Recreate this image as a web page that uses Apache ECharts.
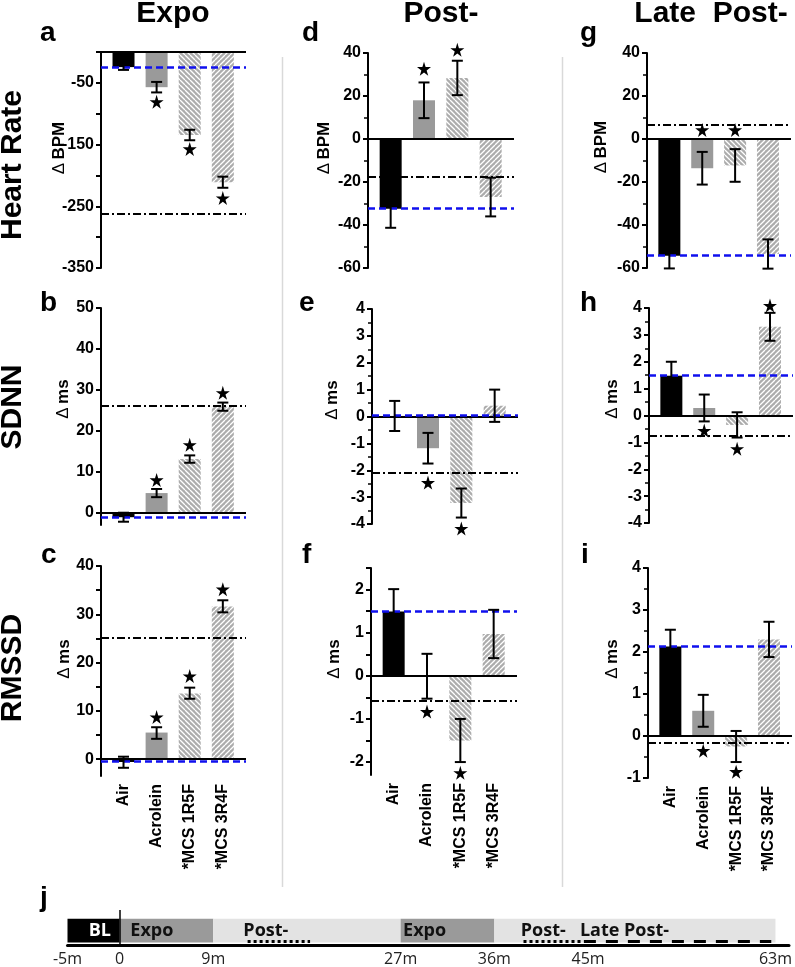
<!DOCTYPE html>
<html><head><meta charset="utf-8">
<script src="https://cdn.jsdelivr.net/npm/echarts@6.0.0/dist/echarts.min.js"></script>
<style>html,body{margin:0;padding:0;background:#fff}#c{width:795px;height:967px}</style>
</head><body><div id="c"></div>
<script>
// ---------- DATA ----------
const categories = ['Air', 'Acrolein', '*MCS 1R5F', '*MCS 3R4F'];

// Heart rate (Δ BPM)
const hrExpoMean = [-24.5, -57, -134.5, -211];
const hrExpoLow  = [-29, -65.5, -143, -220];
const hrExpoHigh = [-20, -48.5, -126, -202];
const hrExpoStar = [null, -80.7, -157, -236.6];
const hrExpoAirRef = -24.5, hrExpoRef2 = -262;

const hrPostMean = [-32.4, 18, 28.4, -27];
const hrPostLow  = [-41.3, 9.7, 20.4, -36];
const hrPostHigh = [-23.5, 26.3, 36.4, -18];
const hrPostStar = [null, 32.7, 41.5, null];
const hrPostAirRef = -32.4, hrPostRef2 = -17.4;

const hrLateMean = [-54.3, -13.6, -12.3, -53.5];
const hrLateLow  = [-60.2, -21.2, -19.9, -60.3];
const hrLateHigh = [-48.4, -6, -4.7, -46.7];
const hrLateStar = [null, 4.2, 4.2, null];
const hrLateAirRef = -54.3, hrLateRef2 = 6.5;

// SDNN (Δ ms)
const sdExpoMean = [-1.1, 4.8, 13.1, 25.9];
const sdExpoLow  = [-2.2, 3.8, 12.2, 24.9];
const sdExpoHigh = [0, 5.8, 14.0, 26.9];
const sdExpoStar = [null, 8.0, 16.6, 29.3];
const sdExpoAirRef = -1.1, sdExpoRef2 = 26.2;

const sdPostMean = [0.02, -1.18, -3.22, 0.4];
const sdPostLow  = [-0.54, -1.75, -3.76, -0.2];
const sdPostHigh = [0.58, -0.61, -2.68, 1.0];
const sdPostStar = [null, -2.46, -4.17, null];
const sdPostAirRef = 0.03, sdPostRef2 = -2.1;

const sdLateMean = [1.48, 0.28, -0.35, 3.3];
const sdLateLow  = [0.96, -0.22, -0.82, 2.78];
const sdLateHigh = [2.0, 0.78, 0.12, 3.82];
const sdLateStar = [null, -0.56, -1.24, 4.09];
const sdLateAirRef = 1.5, sdLateRef2 = -0.75;

// RMSSD (Δ ms)
const rmExpoMean = [-0.6, 5.5, 13.6, 31.6];
const rmExpoLow  = [-1.8, 4.2, 12.5, 30.4];
const rmExpoHigh = [0.5, 6.6, 14.8, 32.9];
const rmExpoStar = [null, 8.7, 17.2, 35.2];
const rmExpoAirRef = -0.4, rmExpoRef2 = 25.2;

const rmPostMean = [1.49, -0.01, -1.5, 0.97];
const rmPostLow  = [0.97, -0.53, -2.0, 0.41];
const rmPostHigh = [2.01, 0.51, -1.0, 1.53];
const rmPostStar = [null, -0.83, -2.25, null];
const rmPostAirRef = 1.5, rmPostRef2 = -0.58;

const rmLateMean = [2.13, 0.6, -0.25, 2.3];
const rmLateLow  = [1.73, 0.22, -0.62, 1.88];
const rmLateHigh = [2.53, 0.98, 0.12, 2.72];
const rmLateStar = [null, -0.35, -0.85, null];
const rmLateAirRef = 2.13, rmLateRef2 = -0.15;

// Tick labels
const ticksHrExpo = [-350, -250, -150, -50];
const ticksHrExpoMinor = [-350, -300, -250, -200, -150, -100, -50, 0];
const ticksSdExpo = [0, 10, 20, 30, 40, 50];
const ticksRmExpo = [0, 10, 20, 30, 40];
const ticksRmExpoMinor = [0, 5, 10, 15, 20, 25, 30, 35, 40];
const ticksRmPost = [-2, -1, 0, 1, 2];
const ticksRmPostMinor = [-2, -1.5, -1, -0.5, 0, 0.5, 1, 1.5, 2, 2.5];

// Timeline (minutes)
const phaseStart = [-5, 0, 9, 27, 36];
const phaseEnd   = [0, 9, 27, 36, 63];
const phaseKind  = ['BL', 'Expo', 'Post', 'Expo', 'Post'];
const phaseLabelText = ['BL', 'Expo', 'Post-', 'Expo', 'Post-', 'Late Post-'];
const phaseLabelTime = [-1.9, 3.1, 14.05, 29.3, 40.7, 48.5];
const windowStart = [12.3, 38.8, 44.6];
const windowEnd   = [18.3, 44.5, 62.6];
const windowKind  = ['post', 'post', 'late'];
const timeTicks = [-5, 0, 9, 27, 36, 45, 63];

// ---------- BUILD ----------
function hatch(dir) {
  const s = 5, c = document.createElement('canvas');
  c.width = s; c.height = s;
  const g = c.getContext('2d');
  g.fillStyle = '#acacac'; g.fillRect(0, 0, s, s);
  g.strokeStyle = '#ffffff'; g.lineWidth = 1.3; g.beginPath();
  for (const x0 of [-s, 0, s]) {
    if (dir > 0) { g.moveTo(x0, s); g.lineTo(x0 + s, 0); }
    else { g.moveTo(x0, 0); g.lineTo(x0 + s, s); }
  }
  g.stroke();
  return { image: c, repeat: 'repeat' };
}
const barColors = ['#000000', '#9a9a9a', hatch(-1), hatch(1)];
const FONT = 'Liberation Sans, Arial, sans-serif';
const STAR = 'path://M50,0 L61,35 L98,35 L68,57 L79,91 L50,70 L21,91 L32,57 L2,35 L39,35 Z';

const panels = [
  {m: hrExpoMean, lo: hrExpoLow, hi: hrExpoHigh, st: hrExpoStar, r1: hrExpoAirRef, r2: hrExpoRef2,
   grid: [101, 52, 145, 216], min: -350, max: 0, labels: ticksHrExpo, ticks: ticksHrExpoMinor, name: 'BPM', namePos: [59, 148], bottom: false},
  {m: sdExpoMean, lo: sdExpoLow, hi: sdExpoHigh, st: sdExpoStar, r1: sdExpoAirRef, r2: sdExpoRef2,
   grid: [101, 308, 145, 217], min: -3, max: 50, labels: ticksSdExpo, ticks: ticksSdExpo, name: 'ms', namePos: [63, 399], bottom: false},
  {m: rmExpoMean, lo: rmExpoLow, hi: rmExpoHigh, st: rmExpoStar, r1: rmExpoAirRef, r2: rmExpoRef2,
   grid: [101, 566, 145, 210], min: -3.5, max: 40, labels: ticksRmExpo, ticks: ticksRmExpoMinor, name: 'ms', namePos: [64, 659], bottom: true},
  {m: hrPostMean, lo: hrPostLow, hi: hrPostHigh, st: hrPostStar, r1: hrPostAirRef, r2: hrPostRef2,
   grid: [368, 53, 146, 215], min: -60, max: 40, interval: 20, name: 'BPM', namePos: [324, 148], bottom: false},
  {m: sdPostMean, lo: sdPostLow, hi: sdPostHigh, st: sdPostStar, r1: sdPostAirRef, r2: sdPostRef2,
   grid: [372, 309, 146, 215], min: -4, max: 4, interval: 1, name: 'ms', namePos: [332, 400], bottom: false},
  {m: rmPostMean, lo: rmPostLow, hi: rmPostHigh, st: rmPostStar, r1: rmPostAirRef, r2: rmPostRef2,
   grid: [371, 568, 146, 207], min: -2.3, max: 2.5, labels: ticksRmPost, ticks: ticksRmPostMinor, name: 'ms', namePos: [334, 659], bottom: true},
  {m: hrLateMean, lo: hrLateLow, hi: hrLateHigh, st: hrLateStar, r1: hrLateAirRef, r2: hrLateRef2,
   grid: [647, 53, 144, 215], min: -60, max: 40, interval: 20, name: 'BPM', namePos: [601, 147], bottom: false},
  {m: sdLateMean, lo: sdLateLow, hi: sdLateHigh, st: sdLateStar, r1: sdLateAirRef, r2: sdLateRef2,
   grid: [649, 308, 144, 215], min: -4, max: 4, interval: 1, name: 'ms', namePos: [612, 399], bottom: false},
  {m: rmLateMean, lo: rmLateLow, hi: rmLateHigh, st: rmLateStar, r1: rmLateAirRef, r2: rmLateRef2,
   grid: [648, 568, 144, 210], min: -1, max: 4, interval: 1, name: 'ms', namePos: [612, 659], bottom: true}
];

const grids = [], xAxes = [], yAxes = [], series = [], nameTexts = [];
panels.forEach((p, i) => {
  grids.push({left: p.grid[0], top: p.grid[1], width: p.grid[2], height: p.grid[3]});
  xAxes.push({
    type: 'value', gridIndex: i, min: -0.68, max: 3.7,
    axisLine: {show: false}, axisTick: {show: false}, splitLine: {show: false},
    axisLabel: p.bottom ? {show: true, customValues: [0, 1, 2, 3], formatter: v => categories[Math.round(v)],
      rotate: 90, margin: 8, color: '#000', fontWeight: 'bold', fontSize: 16, fontFamily: FONT} : {show: false}
  });
  const y = {
    type: 'value', gridIndex: i, min: p.min, max: p.max,
    axisLine: {show: true, onZero: false, lineStyle: {color: '#000', width: 2}},
    axisTick: {show: true, length: 5, lineStyle: {color: '#000', width: 2}},
    axisLabel: {color: '#000', fontWeight: 'bold', fontSize: 16, fontFamily: FONT, margin: 7},
    splitLine: {show: false}
  };
  if (p.interval) {
    y.interval = p.interval;
    y.minorTick = {show: true, splitNumber: 2, length: 4, lineStyle: {color: '#000', width: 1.5}};
  } else {
    y.axisLabel.customValues = p.labels;
    y.axisTick.customValues = p.ticks;
  }
  yAxes.push(y);
  nameTexts.push({type: 'text', x: p.namePos[0], y: p.namePos[1], rotation: Math.PI / 2, silent: true,
    style: {text: '{d|Δ} {b|' + p.name + '}', align: 'center', verticalAlign: 'middle',
      textAlign: 'center', textVerticalAlign: 'middle',
      rich: {d: {fontSize: 17, fontFamily: FONT, fill: '#000', color: '#000'},
             b: {fontSize: 17, fontFamily: FONT, fontWeight: 'bold', fill: '#000', color: '#000'}}}});

  series.push({
    type: 'bar', xAxisIndex: i, yAxisIndex: i, barWidth: 22, silent: true,
    data: p.m.map((v, k) => ({value: [k, v], itemStyle: {color: barColors[k]}})),
    markLine: {
      silent: true, symbol: 'none', label: {show: false}, animation: false,
      data: [
        {yAxis: 0, lineStyle: {type: 'solid', color: '#000', width: 2}},
        {yAxis: p.r2, lineStyle: {type: [8, 3, 2, 3], color: '#000', width: 2}},
        {yAxis: p.r1, lineStyle: {type: [7, 4], color: '#1010ee', width: 2.5}}
      ]
    },
    z: 2
  });
  series.push({
    type: 'custom', xAxisIndex: i, yAxisIndex: i, silent: true, z: 5,
    data: p.lo.map((v, k) => [k, v, p.hi[k]]),
    encode: {x: 0, y: [1, 2]},
    renderItem: (params, api) => {
      const x = api.value(0);
      const a = api.coord([x, api.value(1)]), b = api.coord([x, api.value(2)]);
      const w = 5.5, st = {stroke: '#000', lineWidth: 2};
      return {type: 'group', children: [
        {type: 'line', shape: {x1: a[0], y1: a[1], x2: b[0], y2: b[1]}, style: st},
        {type: 'line', shape: {x1: a[0] - w, y1: a[1], x2: a[0] + w, y2: a[1]}, style: st},
        {type: 'line', shape: {x1: b[0] - w, y1: b[1], x2: b[0] + w, y2: b[1]}, style: st}
      ]};
    }
  });
  series.push({
    type: 'scatter', xAxisIndex: i, yAxisIndex: i, silent: true, clip: false, z: 6,
    symbol: STAR, symbolSize: 14, itemStyle: {color: '#000', opacity: 1},
    data: p.st.map((v, k) => v == null ? null : [k, v]).filter(d => d)
  });
});

// Timeline grid
const T = panels.length;
grids.push({left: 67.5, top: 910, right: 0, height: 40});
xAxes.push({
  type: 'value', gridIndex: T, min: -5, max: 64.3,
  axisLine: {show: true, onZero: false, lineStyle: {color: '#000', width: 3}},
  axisTick: {show: false}, splitLine: {show: false},
  axisLabel: {customValues: timeTicks, formatter: v => v === 0 ? '0' : v + 'm',
    fontFamily: 'Open Sans', fontSize: 16, color: '#222', margin: 6}
});
yAxes.push({type: 'value', gridIndex: T, min: 0, max: 1, show: false});
const phaseFill = {BL: '#000000', Expo: '#9a9a9a', Post: '#e3e3e3'};
series.push({
  type: 'custom', xAxisIndex: T, yAxisIndex: T, silent: true, z: 1,
  data: phaseStart.map((s, k) => [s, phaseEnd[k], k]),
  renderItem: (params, api) => {
    const k = api.value(2);
    const a = api.coord([api.value(0), 0.75]), b = api.coord([api.value(1), 0.075]);
    return {type: 'rect', shape: {x: a[0], y: a[1], width: b[0] - a[0], height: b[1] - a[1]},
      style: {fill: phaseFill[phaseKind[k]]}};
  },
  markLine: {silent: true, symbol: 'none', label: {show: false}, animation: false,
    data: [{xAxis: 0, lineStyle: {type: 'solid', color: '#000', width: 1.5}}]}
});
series.push({
  type: 'custom', xAxisIndex: T, yAxisIndex: T, silent: true, z: 3,
  data: windowStart.map((s, k) => [s, windowEnd[k], k]),
  renderItem: (params, api) => {
    const k = api.value(2);
    const a = api.coord([api.value(0), 0.1]), b = api.coord([api.value(1), 0.1]);
    const late = windowKind[k] === 'late';
    return {type: 'line', shape: {x1: a[0], y1: a[1], x2: b[0], y2: b[1]},
      style: {stroke: '#000', lineWidth: 3, lineDash: late ? [12, 10] : [3, 3]}};
  }
});
series.push({
  type: 'custom', xAxisIndex: T, yAxisIndex: T, silent: true, z: 4,
  data: phaseLabelTime.map((t, k) => [t, 0.4, k]),
  renderItem: (params, api) => {
    const k = api.value(2);
    const c = api.coord([api.value(0), api.value(1)]);
    return {type: 'text', x: c[0], y: c[1], style: {
      text: phaseLabelText[k], fill: k === 0 ? '#fff' : '#111',
      font: 'bold 18px "Open Sans", sans-serif', align: 'center', verticalAlign: 'middle',
      textAlign: 'center', textVerticalAlign: 'middle'}};
  }
});

// Decorative texts
function txt(x, y, text, font, rot) {
  return {type: 'text', x: x, y: y, rotation: rot || 0, silent: true,
    style: {text: text, font: font, fill: '#000', align: 'center', verticalAlign: 'middle',
      textAlign: 'center', textVerticalAlign: 'middle'}};
}
function leftTxt(x, y, text, font) {
  return {type: 'text', x: x, y: y, silent: true,
    style: {text: text, font: font, fill: '#000', align: 'left', verticalAlign: 'middle',
      textAlign: 'left', textVerticalAlign: 'middle'}};
}
const HF = 'bold 30px "Liberation Sans", Arial, sans-serif';
const LF = 'bold 28px "Liberation Sans", Arial, sans-serif';
const graphic = [
  txt(173, 13.5, 'Expo', HF), txt(441, 13.5, 'Post-', HF), txt(711, 13.5, 'Late  Post-', HF),
  txt(13, 165, 'Heart Rate', HF, Math.PI / 2), txt(13, 407, 'SDNN', HF, Math.PI / 2), txt(13, 668, 'RMSSD', HF, Math.PI / 2),
  leftTxt(40, 33, 'a', LF), leftTxt(40, 303, 'b', LF), leftTxt(41, 555, 'c', LF),
  leftTxt(302, 33, 'd', LF), leftTxt(299, 303, 'e', LF), leftTxt(302, 555, 'f', LF),
  leftTxt(580, 33, 'g', LF), leftTxt(580, 303, 'h', LF), leftTxt(581, 555, 'i', LF),
  leftTxt(40, 898, 'j', LF),
  {type: 'line', silent: true, shape: {x1: 282.5, y1: 57, x2: 282.5, y2: 887}, style: {stroke: '#d9d9d9', lineWidth: 1.5}},
  {type: 'line', silent: true, shape: {x1: 562.5, y1: 57, x2: 562.5, y2: 887}, style: {stroke: '#d9d9d9', lineWidth: 1.5}}
].concat(nameTexts);

const chart = echarts.init(document.getElementById('c'), null, {renderer: 'canvas'});
chart.setOption({
  animation: false, backgroundColor: '#fff',
  grid: grids, xAxis: xAxes, yAxis: yAxes, series: series, graphic: graphic
});
</script></body></html>
